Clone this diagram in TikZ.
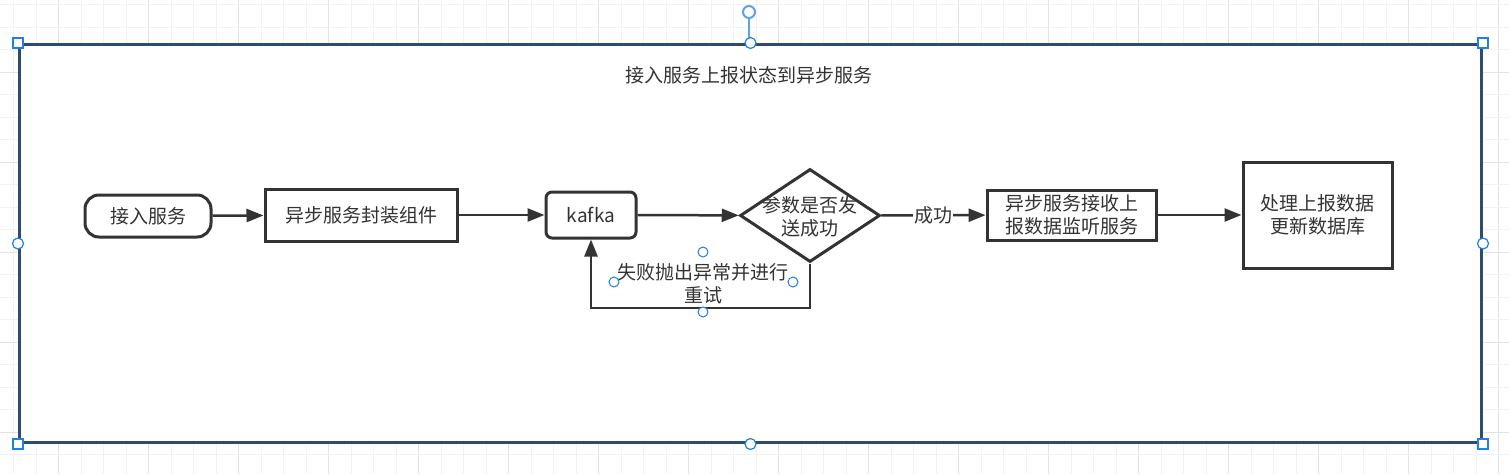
\documentclass[tikz,border=0pt]{standalone}
\usepackage{fontspec}
\setmainfont{Noto Sans CJK SC}
\usetikzlibrary{arrows.meta,shapes.geometric}
\definecolor{ink}{HTML}{333333}
\definecolor{txt}{HTML}{333333}
\definecolor{frame}{HTML}{2E4D6E}
\definecolor{sel}{HTML}{1F7FE5}
\definecolor{selrot}{HTML}{5FA2EA}
\definecolor{gridminor}{HTML}{F2F2F2}
\definecolor{gridmajor}{HTML}{E3E3E3}
\tikzset{
  every node/.style={font=\fontsize{19}{23}\selectfont, text=txt},
  box/.style={draw=ink, line width=3pt, fill=white, inner sep=0pt, align=center},
  pill/.style={box, rounded corners=14pt},
  roundbox/.style={box, rounded corners=6pt},
  decision/.style={draw=ink, line width=3pt, fill=white, diamond, aspect=1.505,
     minimum width=140pt, minimum height=93pt, inner sep=0pt},
  flow/.style={draw=ink, line width=2.5pt, -{Triangle[length=17pt,width=13pt]}},
  edgelabel/.style={fill=white, inner sep=1pt, align=center},
  handlesq/.style={draw=sel, fill=white, line width=1.2pt, minimum size=10pt, inner sep=0pt, rectangle},
  handlec/.style={draw=sel, fill=white, line width=1.2pt, circle, minimum size=11pt, inner sep=0pt},
}
\begin{document}
\begin{tikzpicture}[x=1pt,y=-1pt]
\useasboundingbox (0,0) rectangle (1509,474);
\fill[white] (0,0) rectangle (1509,474);
% grid
\foreach \k in {0,...,66} {
  \pgfmathtruncatemacro\m{mod(\k,4)}
  \ifnum\m=2 \def\gc{gridmajor}\else\def\gc{gridminor}\fi
  \draw[\gc, line width=1pt] ({13.5+22.5*\k},0) -- ({13.5+22.5*\k},474);
}
\foreach \k in {0,...,20} {
  \pgfmathtruncatemacro\m{mod(\k,4)}
  \ifnum\m=3 \def\gc{gridmajor}\else\def\gc{gridminor}\fi
  \draw[\gc, line width=1pt] (0,{4.5+22.5*\k}) -- (1509,{4.5+22.5*\k});
}
% container
\node[draw=frame, fill=white, line width=3pt, minimum width=1462pt, minimum height=398pt,
      inner sep=0pt, anchor=north west] (frame) at (18,43) {};
\node (title) at (749,75) {接入服务上报状态到异步服务};

% nodes
\node[pill, minimum width=126pt, minimum height=42pt] (svc) at (148,216) {接入服务};
\node[box, minimum width=192pt, minimum height=52pt] (wrap) at (361,215) {异步服务封装组件};
\node[roundbox, minimum width=90pt, minimum height=46pt] (kafka) at (591,215) {kafka};
\node[decision] (dec) at (810,215.5) {};
\node at (810,217) [align=center] {参数是否发\\送成功};
\node[box, minimum width=169pt, minimum height=50pt] (recv) at (1071.5,215) {异步服务接收上\\报数据监听服务};
\node[box, minimum width=149pt, minimum height=106pt] (proc) at (1317.5,215) {处理上报数据\\更新数据库};

% connectors
\draw[flow] (svc) -- (wrap);
\draw[flow] (wrap) -- (kafka);
\draw[flow] (kafka) -- (dec);
\draw[flow] (dec) -- node[edgelabel] {成功} (recv);
\draw[flow] (recv) -- (proc);
\coordinate (loop) at (810,308);
\draw[flow] (dec.south) -- (loop) -| (kafka.south);
\node[edgelabel] (faillab) at (703,284) {失败抛出异常并进行\\重试};

% selection handles
\draw[selrot, line width=2pt] (749,19) -- (749,38);
\node[draw=selrot, fill=white, line width=2pt, circle, minimum size=12pt, inner sep=0pt] at (749,12) {};
\foreach \p in {(frame.north west),(frame.north east),(frame.south west),(frame.south east)}
  \node[handlesq] at \p {};
\foreach \p in {(frame.north),(frame.south),(frame.west),(frame.east)}
  \node[handlec] at \p {};
\foreach \p in {(703,252),(614,282),(793,282),(703,312)}
  \node[handlec, minimum size=10pt, line width=1pt] at \p {};
\end{tikzpicture}
\end{document}
